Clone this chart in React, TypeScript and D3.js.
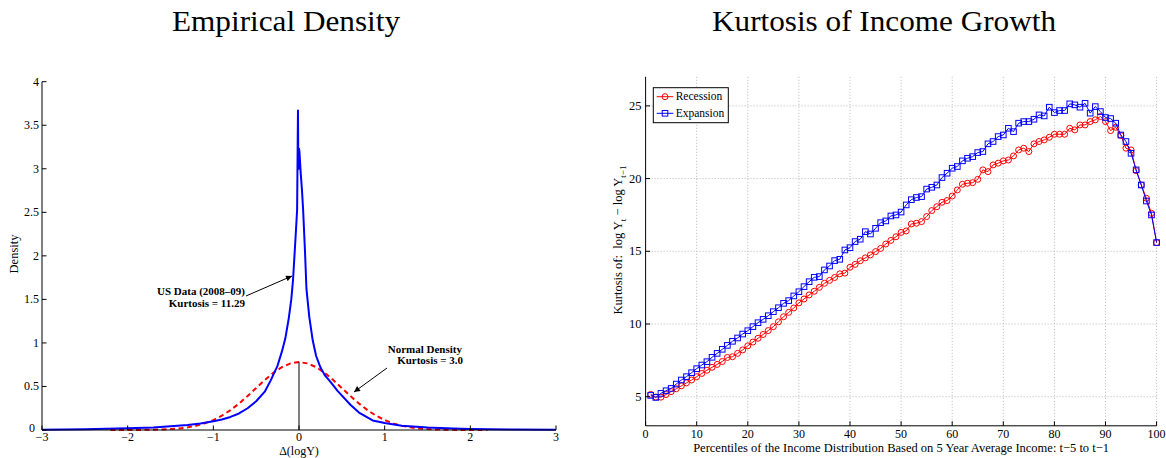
import React from 'react';
import * as d3 from 'd3';

const FONT = '"Liberation Serif", "Times New Roman", Times, serif';

// ---------- Left panel: empirical density ----------
const densityX = [-3, -2.5, -2, -1.7, -1.5, -1.3, -1.15, -1.0, -0.9, -0.8, -0.7, -0.6, -0.5, -0.4, -0.33, -0.25,
  -0.2, -0.16, -0.12, -0.09, -0.07, -0.05, -0.035, -0.022, -0.012, -0.008, -0.004, 0.0, 0.005, 0.012, 0.02, 0.035,
  0.048, 0.07, 0.087, 0.12, 0.16, 0.2, 0.25, 0.3, 0.37, 0.45, 0.6, 0.7, 0.86, 1.0, 1.2, 1.5, 1.8, 2.0, 2.5, 3.0];
const densityY = [0.004, 0.01, 0.02, 0.03, 0.042, 0.058, 0.075, 0.1, 0.12, 0.15, 0.19, 0.25, 0.33, 0.44, 0.57, 0.74,
  0.9, 1.05, 1.28, 1.5, 1.72, 2.05, 2.3, 2.53, 3.67, 3.05, 3.0, 3.23, 3.2, 3.08, 2.95, 2.75,
  2.53, 2.05, 1.62, 1.3, 1.03, 0.85, 0.72, 0.63, 0.55, 0.45, 0.29, 0.2, 0.11, 0.08, 0.05, 0.03, 0.017, 0.012, 0.006, 0.003];

const normalX = [-2.2, -2.1, -2.0, -1.9, -1.8, -1.7, -1.6, -1.5, -1.4, -1.3, -1.2, -1.1, -1.0, -0.9, -0.8, -0.7, -0.6,
  -0.5, -0.4, -0.3, -0.2, -0.1, 0.0, 0.1, 0.2, 0.3, 0.4, 0.5, 0.6, 0.7, 0.8, 0.9, 1.0, 1.1, 1.2, 1.3, 1.4, 1.5, 1.6,
  1.7, 1.8, 1.9, 2.0, 2.1, 2.2];
const normalY = [0.0001, 0.0002, 0.0004, 0.0008, 0.0015, 0.003, 0.0057, 0.0103, 0.018, 0.0303, 0.049, 0.0762, 0.114,
  0.164, 0.228, 0.304, 0.39, 0.482, 0.573, 0.656, 0.722, 0.765, 0.78, 0.765, 0.722, 0.656, 0.573, 0.482, 0.39, 0.304,
  0.228, 0.164, 0.114, 0.0762, 0.049, 0.0303, 0.018, 0.0103, 0.0057, 0.003, 0.0015, 0.0008, 0.0004, 0.0002, 0.0001];

const leftXTicks = [-3, -2, -1, 0, 1, 2, 3];
const leftXTickLabels = ['\u22123', '\u22122', '\u22121', '0', '1', '2', '3'];
const leftYTicks = [0, 0.5, 1, 1.5, 2, 2.5, 3, 3.5, 4];
const leftYTickLabels = ['0', '0.5', '1', '1.5', '2', '2.5', '3', '3.5', '4'];

// ---------- Right panel: kurtosis by percentile ----------
const percentiles = d3.range(1, 101);
const recession = [5.16, 4.98, 4.97, 5.15, 5.35, 5.55, 5.75, 5.95, 6.15, 6.38,
  6.6, 6.82, 7.02, 7.22, 7.42, 7.7, 7.75, 7.98, 8.22, 8.5,
  8.76, 9.02, 9.28, 9.55, 9.82, 10.15, 10.5, 10.8, 11.1, 11.45,
  11.72, 12.0, 12.25, 12.52, 12.8, 13.0, 13.2, 13.45, 13.5, 13.9,
  14.1, 14.35, 14.55, 14.75, 14.98, 15.2, 15.5, 15.75, 16.0, 16.3,
  16.4, 16.88, 16.93, 17.04, 17.39, 17.8, 18.07, 18.37, 18.49, 18.8,
  19.22, 19.61, 19.68, 19.72, 19.95, 20.6, 20.48, 20.94, 21.06, 21.22,
  21.28, 21.56, 21.97, 22.09, 21.86, 22.39, 22.55, 22.66, 22.84, 23.05,
  23.05, 23.05, 23.46, 23.35, 23.69, 23.69, 23.92, 24.04, 24.27, 23.92,
  23.3, 23.53, 22.96, 22.09, 21.97, 20.55, 19.56, 18.65, 17.61, 15.6];
const expansion = [5.09, 4.95, 5.23, 5.41, 5.57, 5.87, 6.15, 6.38, 6.65, 6.93,
  7.18, 7.41, 7.71, 7.98, 8.26, 8.53, 8.81, 9.04, 9.31, 9.54,
  9.82, 10.09, 10.32, 10.57, 10.85, 11.12, 11.42, 11.61, 11.93, 12.22,
  12.57, 12.91, 13.21, 13.26, 13.72, 13.99, 14.36, 14.45, 15.09, 15.25,
  15.67, 15.83, 16.35, 16.19, 16.58, 16.97, 17.09, 17.43, 17.5, 17.7,
  18.19, 18.55, 18.7, 18.76, 19.28, 19.4, 19.56, 20.07, 20.37, 20.71,
  20.83, 21.22, 21.4, 21.51, 21.79, 21.86, 22.39, 22.55, 22.89, 23.0,
  23.46, 23.23, 23.81, 23.92, 23.92, 24.08, 24.38, 24.31, 24.91, 24.54,
  24.68, 24.68, 25.14, 25.07, 24.91, 25.18, 24.5, 24.95, 24.61, 24.2,
  24.13, 23.81, 23.0, 22.55, 21.74, 20.6, 19.56, 18.46, 17.5, 15.6];

const rightXTicks = [0, 10, 20, 30, 40, 50, 60, 70, 80, 90, 100];
const rightYTicks = [5, 10, 15, 20, 25];
const seriesNames = ['Recession', 'Expansion'];

const RED = '#ff0000';
const BLUE = '#0000ff';

export default function App() {
  const lx = d3.scaleLinear().domain([-3, 3]).range([42, 556]);
  const ly = d3.scaleLinear().domain([0, 4]).range([430, 81.7]);
  const rx = d3.scaleLinear().domain([0, 100]).range([645.6, 1156.6]);
  const ry = d3.scaleLinear().domain([3, 27]).range([425.8, 76.8]);

  const densLine = d3.line<number>().x((_, i) => lx(densityX[i])).y((d) => ly(d))(densityY) || '';
  const normLine = d3.line<number>().x((_, i) => lx(normalX[i])).y((d) => ly(d))(normalY) || '';
  const recLine = d3.line<number>().x((_, i) => rx(percentiles[i])).y((d) => ry(d))(recession) || '';
  const expLine = d3.line<number>().x((_, i) => rx(percentiles[i])).y((d) => ry(d))(expansion) || '';

  const [lx0, lx1] = lx.range();
  const [ly0, ly1] = ly.range();
  const [rx0, rx1] = rx.range();
  const [ry0, ry1] = ry.range();
  const tl = 4.5;
  const fs = 12.5;
  const tfs = 12;

  return (
    <svg width={1166} height={458} style={{ position: 'absolute', left: 0, top: 0, background: '#fff' }}
      fontFamily={FONT}>
      <defs>
        <marker id="arr" viewBox="0 0 10 10" refX="10" refY="5" markerWidth="8" markerHeight="6"
          markerUnits="userSpaceOnUse" orient="auto">
          <path d="M0,0 L10,5 L0,10 z" fill="#000" />
        </marker>
      </defs>
      <rect x={0} y={0} width={1166} height={458} fill="#fff" />

      {/* ---------- Left panel ---------- */}
      <text x={286} y={31} fontSize={28.5} textAnchor="middle" fill="#000" textLength={228}
        lengthAdjust="spacingAndGlyphs">Empirical Density</text>
      <path d={normLine} fill="none" stroke={RED} strokeWidth={2} strokeDasharray="5,3.5" />
      <line x1={lx(0)} x2={lx(0)} y1={ly(0)} y2={ly(0.78)} stroke="#000" strokeWidth={1} />
      <path d={densLine} fill="none" stroke={BLUE} strokeWidth={2} strokeLinejoin="round" />
      {/* axes */}
      <line x1={lx0} x2={lx0} y1={ly0} y2={ly1} stroke="#000" strokeWidth={1} />
      <line x1={lx0} x2={lx1} y1={ly0} y2={ly0} stroke="#000" strokeWidth={1} />
      {leftYTicks.map((t, i) => (
        <g key={'ly' + i}>
          <line x1={lx0} x2={lx0 + tl} y1={ly(t)} y2={ly(t)} stroke="#000" />
          <text x={t === 0 ? lx0 - 7 : lx0 - 3} y={ly(t) - (t === 0 ? 2 : 0)} dy="0.33em" fontSize={tfs}
            textAnchor="end">
            {leftYTickLabels[i]}
          </text>
        </g>
      ))}
      {leftXTicks.map((t, i) => (
        <g key={'lx' + i}>
          <line x1={lx(t)} x2={lx(t)} y1={ly0} y2={ly0 - tl} stroke="#000" />
          <text x={lx(t)} y={441} fontSize={tfs} textAnchor="middle">{leftXTickLabels[i]}</text>
        </g>
      ))}
      <text x={lx(0)} y={454.5} fontSize={12} textAnchor="middle">{'\u0394(logY)'}</text>
      <text transform={`translate(18,254) rotate(-90)`} fontSize={fs} textAnchor="middle">Density</text>
      {/* annotations */}
      <text x={245} y={295} fontSize={11} fontWeight="bold" textAnchor="end">US Data (2008{'\u2013'}09)</text>
      <text x={245} y={306.5} fontSize={11} fontWeight="bold" textAnchor="end">Kurtosis = 11.29</text>
      <line x1={246} y1={296} x2={292} y2={276} stroke="#000" strokeWidth={1} markerEnd="url(#arr)" />
      <text x={462} y={352.5} fontSize={11} fontWeight="bold" textAnchor="end">Normal Density</text>
      <text x={463} y={364} fontSize={11} fontWeight="bold" textAnchor="end">Kurtosis = 3.0</text>
      <line x1={387} y1={368} x2={354} y2={392} stroke="#000" strokeWidth={1} markerEnd="url(#arr)" />

      {/* ---------- Right panel ---------- */}
      <text x={884} y={31} fontSize={28.5} textAnchor="middle" fill="#000" textLength={344}
        lengthAdjust="spacingAndGlyphs">Kurtosis of Income Growth</text>
      {/* grid */}
      {rightXTicks.filter((t) => t > 0).map((t) => (
        <line key={'gx' + t} x1={rx(t)} x2={rx(t)} y1={ry0} y2={ry1} stroke="#b8b8b8" strokeWidth={1}
          strokeDasharray="1,2" />
      ))}
      {rightYTicks.map((t) => (
        <line key={'gy' + t} x1={rx0} x2={rx1} y1={ry(t)} y2={ry(t)} stroke="#b8b8b8" strokeWidth={1}
          strokeDasharray="1,2" />
      ))}
      {/* series */}
      <path d={recLine} fill="none" stroke={RED} strokeWidth={1} />
      {recession.map((v, i) => (
        <circle key={'rc' + i} cx={rx(percentiles[i])} cy={ry(v)} r={3} fill="none" stroke={RED} strokeWidth={1} />
      ))}
      <path d={expLine} fill="none" stroke={BLUE} strokeWidth={1} />
      {expansion.map((v, i) => (
        <rect key={'bs' + i} x={rx(percentiles[i]) - 2.8} y={ry(v) - 2.8} width={5.6} height={5.6} fill="none"
          stroke={BLUE} strokeWidth={1} />
      ))}
      {/* axes */}
      <line x1={rx0} x2={rx0} y1={ry0} y2={ry1} stroke="#000" strokeWidth={1} />
      <line x1={rx0} x2={rx1} y1={ry0} y2={ry0} stroke="#000" strokeWidth={1} />
      {rightYTicks.map((t) => (
        <g key={'ry' + t}>
          <line x1={rx0} x2={rx0 + tl} y1={ry(t)} y2={ry(t)} stroke="#000" />
          <text x={rx0 - 4} y={ry(t)} dy="0.33em" fontSize={fs} textAnchor="end">{t}</text>
        </g>
      ))}
      {rightXTicks.map((t) => (
        <g key={'rx' + t}>
          <line x1={rx(t)} x2={rx(t)} y1={ry0} y2={ry0 - tl} stroke="#000" />
          <text x={rx(t)} y={437.5} fontSize={tfs} textAnchor="middle">{t}</text>
        </g>
      ))}
      <text x={(rx0 + rx1) / 2} y={452} fontSize={fs} textAnchor="middle">
        Percentiles of the Income Distribution Based on 5 Year Average Income: t{'\u2212'}5 to t{'\u2212'}1
      </text>
      <text transform={`translate(622,240) rotate(-90)`} fontSize={fs} textAnchor="middle">
        <tspan>{'Kurtosis of:\u00a0\u00a0log Y'}</tspan>
        <tspan dy={3.5} fontSize={9}>t</tspan>
        <tspan dy={-3.5}>{'\u00a0\u2212 log Y'}</tspan>
        <tspan dy={3.5} fontSize={9}>{'t\u22121'}</tspan>
      </text>
      {/* legend */}
      <rect x={653.3} y={87.7} width={75} height={35} fill="#fff" stroke="#000" strokeWidth={1} />
      {seriesNames.map((name, i) => {
        const yy = 96.7 + i * 16.6;
        const color = i === 0 ? RED : BLUE;
        return (
          <g key={name}>
            <line x1={656.7} x2={673.3} y1={yy} y2={yy} stroke={color} strokeWidth={1} />
            {i === 0 ? (
              <circle cx={665} cy={yy} r={3} fill="none" stroke={color} />
            ) : (
              <rect x={665 - 2.8} y={yy - 2.8} width={5.6} height={5.6} fill="none" stroke={color} />
            )}
            <text x={675.7} y={yy} dy="0.33em" fontSize={11.5}>{name}</text>
          </g>
        );
      })}
    </svg>
  );
}
